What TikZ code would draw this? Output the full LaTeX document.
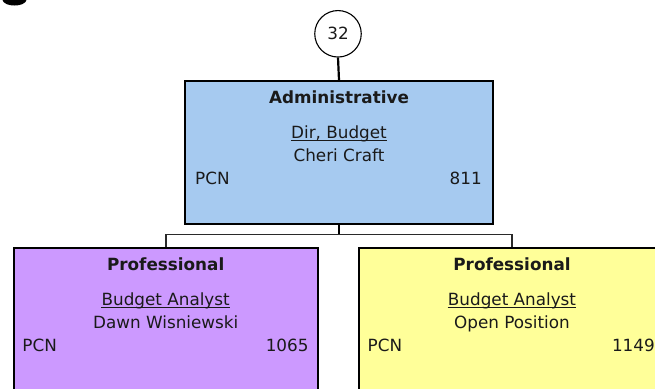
\documentclass[tikz,border=0pt]{standalone}
\usepackage{fontspec}
\setmainfont{DejaVu Sans}
\usetikzlibrary{calc}
\definecolor{admblue}{HTML}{A6CAF0}
\definecolor{profpurple}{HTML}{CC99FF}
\definecolor{profyellow}{HTML}{FFFF99}
\definecolor{txt}{HTML}{1A1A1A}
\definecolor{busgray}{HTML}{2A2A2A}
\tikzset{
  posbox/.style={draw=black, line width=2pt, anchor=north west, inner sep=0pt},
  lbl/.style={font=\fontsize{16.8}{20}\selectfont, text=txt, inner sep=0pt, anchor=base},
  lblb/.style={lbl, font=\fontsize{16.8}{20}\selectfont\bfseries},
  lbll/.style={lbl, anchor=base west},
  lblr/.style={lbl, anchor=base east},
  thickconn/.style={draw=black, line width=2.2pt},
  busconn/.style={draw=busgray, line width=1.7pt},
  uline/.style={draw=txt, line width=1pt},
}
\begin{document}
\begin{tikzpicture}[x=1pt,y=-1pt]
\useasboundingbox (0,0) rectangle (655,388);
\begin{scope}
\clip (0,0) rectangle (655,388);
% cut-off glyph at the top left
\fill[black] (2,-1) .. controls (3,4) and (9,5.5) .. (14.5,5.5) .. controls (20,5.5) and (26,4) .. (27,-1) -- cycle;

% count circle
\node[circle, draw=black, line width=1.1pt, minimum size=46.5pt, inner sep=0pt,
      font=\fontsize{16.8}{20}\selectfont, text=txt] (cnt) at (338,33.8) {32};

% boxes
\node[posbox, fill=admblue, minimum width=308pt, minimum height=143pt] (adm) at (184,80) {};
\node[posbox, fill=profpurple, minimum width=304pt, minimum height=143pt] (pl) at (12.7,247) {};
\node[posbox, fill=profyellow, minimum width=306pt, minimum height=143pt] (pr) at (358,247) {};

% connectors
\coordinate (busy) at (0,234.5);
\draw[thickconn] (cnt.south) -- (adm.north);
\draw[thickconn] (adm.south) -- (adm.south |- busy);
\draw[busconn] (adm.south |- busy) -| (pl.north);
\draw[busconn] (adm.south |- busy) -| (pr.north);

% administrative box text
\node[lblb] (admT) at ($(adm.north)+(0,23)$) {Administrative};
\node[lbl] (admJ) at ($(adm.north)+(0,58)$) {Dir, Budget};
\draw[uline] ([yshift=-2.3pt]admJ.base west) -- ([yshift=-2.3pt]admJ.base east);
\node[lbl] (admN) at ($(adm.north)+(0,81)$) {Cheri Craft};
\node[lbll] (admP) at ($(adm.north west)+(11,104)$) {PCN};
\node[lblr] (admC) at ($(adm.north east)+(-12,104)$) {811};

% left professional box text
\node[lblb] (plT) at ($(pl.north)+(0,23.5)$) {Professional};
\node[lbl] (plJ) at ($(pl.north)+(0,58)$) {Budget Analyst};
\draw[uline] ([yshift=-2.3pt]plJ.base west) -- ([yshift=-2.3pt]plJ.base east);
\node[lbl] (plN) at ($(pl.north)+(0,81)$) {Dawn Wisniewski};
\node[lbll] (plP) at ($(pl.north west)+(9.5,104.5)$) {PCN};
\node[lblr] (plC) at ($(pl.north east)+(-10,104.5)$) {1065};

% right professional box text
\node[lblb] (prT) at ($(pr.north)+(0,23.5)$) {Professional};
\node[lbl] (prJ) at ($(pr.north)+(0,58)$) {Budget Analyst};
\draw[uline] ([yshift=-2.3pt]prJ.base west) -- ([yshift=-2.3pt]prJ.base east);
\node[lbl] (prN) at ($(pr.north)+(0,81)$) {Open Position};
\node[lbll] (prP) at ($(pr.north west)+(9.5,104.5)$) {PCN};
\node[lblr] (prC) at ($(pr.north east)+(-11,104.5)$) {1149};
\end{scope}
\end{tikzpicture}
\end{document}
